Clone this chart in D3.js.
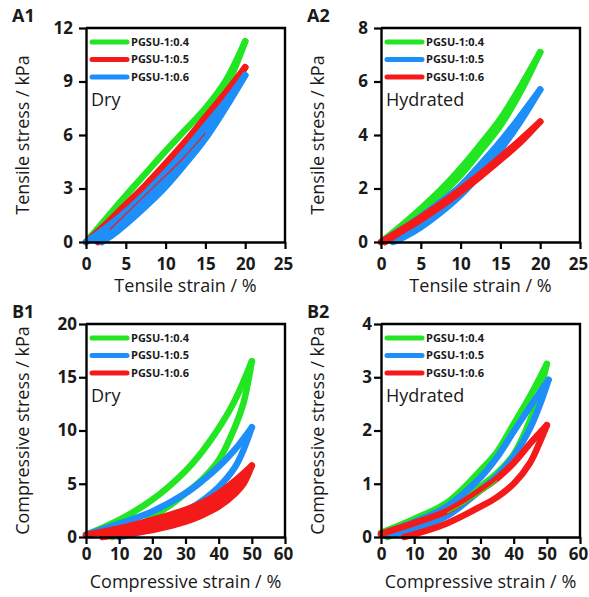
<!DOCTYPE html>
<html>
<head>
<meta charset="utf-8">
<script src="https://cdn.jsdelivr.net/npm/d3@7/dist/d3.min.js"></script>
<style>
  html, body { margin: 0; padding: 0; background: #fff; }
  svg { display: block; }
  text { font-family: "Open Sans", "DejaVu Sans", sans-serif; fill: #1a1a1a; }
</style>
</head>
<body>
<svg id="chart" width="589" height="597"></svg>
<script>
// ---- series names and colours ----
const names = ["PGSU-1:0.4", "PGSU-1:0.5", "PGSU-1:0.6"];
const GREEN = "#22e622", RED = "#f51a1a", BLUE = "#1e8ff8";

// ---- tick values ----
const tensileStrainTicks = [0, 5, 10, 15, 20, 25];
const a1StressTicks = [0, 3, 6, 9, 12];
const a2StressTicks = [0, 2, 4, 6, 8];
const compStrainTicks = [0, 10, 20, 30, 40, 50, 60];
const b1StressTicks = [0, 5, 10, 15, 20];
const b2StressTicks = [0, 1, 2, 3, 4];

// ---- A1: tensile, dry (strain %, stress kPa); loading then unloading ----
const a1_04_load = [[0,0],[2.5,1.3],[5,2.6],[7.5,3.85],[10,5.1],[12.5,6.3],[15,7.5],[17.5,9.0],[20,11.25]];
const a1_04_unload = [[20,11.25],[17.5,8.6],[15,7.0],[12.5,5.6],[10,4.3],[7.5,3.0],[5,1.7],[3.5,0.8],[2,0]];
const a1_05_load = [[0,0],[2.5,1.0],[5,2.1],[7.5,3.2],[10,4.4],[12.5,5.65],[15,7.0],[17.5,8.35],[20,9.8]];
const a1_05_unload = [[20,9.8],[17.5,8.0],[15,6.5],[12.5,5.1],[10,3.8],[7.5,2.6],[5,1.5],[3,0.6],[1.5,0]];
const a1_05_inner = [[3,0.7],[6,2.0],[9,3.3],[12,4.6],[15,6.1]];
const a1_06_load = [[0,0],[2.5,0.8],[5,1.7],[7.5,2.75],[10,3.9],[12.5,5.15],[15,6.5],[17.5,7.85],[20,9.35]];
const a1_06_unload = [[20,9.35],[17.5,7.5],[15,5.8],[12.5,4.4],[10,3.1],[7.5,2.0],[5,1.0],[3.5,0.45],[2,0]];

// ---- A2: tensile, hydrated ----
const a2_04_load = [[0,0],[2.5,0.6],[5,1.25],[7.5,1.95],[10,2.75],[12.5,3.65],[15,4.6],[17.5,5.8],[20,7.1]];
const a2_04_unload = [[20,7.1],[17.5,5.6],[15,4.35],[12.5,3.4],[10,2.5],[7.5,1.75],[5,1.05],[2.5,0.45],[0.5,0]];
const a2_05_load = [[0,0],[2.5,0.45],[5,0.95],[7.5,1.5],[10,2.1],[12.5,2.9],[15,3.75],[17.5,4.7],[20,5.7]];
const a2_05_unload = [[20,5.7],[17.5,4.5],[15,3.45],[12.5,2.55],[10,1.75],[7.5,1.1],[5,0.55],[3,0.2],[1.5,0]];
const a2_06_load = [[0,0],[2.5,0.45],[5,0.92],[7.5,1.42],[10,1.97],[12.5,2.55],[15,3.17],[17.5,3.82],[20,4.5]];
const a2_06_unload = [[20,4.5],[17.5,3.72],[15,3.07],[12.5,2.45],[10,1.87],[7.5,1.33],[5,0.83],[2.5,0.38],[0.5,0]];

// ---- B1: compressive, dry ----
const b1_04_load = [[0,0.2],[10,1.6],[20,3.5],[30,6.2],[35,8.0],[40,10.2],[45,12.9],[50,16.5]];
const b1_04_unload = [[50,16.5],[47.5,12.6],[45,10.4],[40,7.2],[35,5.4],[30,4.1],[25,2.9],[20,1.9],[15,0.8],[8,0]];
const b1_05_load = [[0,0.2],[10,1.25],[20,2.4],[30,4.1],[35,5.25],[40,6.6],[45,8.25],[50,10.3]];
const b1_05_unload = [[50,10.3],[47.5,8.2],[45,6.6],[40,4.7],[35,3.4],[30,2.4],[25,1.5],[20,0.85],[15,0.35],[10,0]];
const b1_06_load = [[0,0.2],[10,0.8],[20,1.6],[30,2.55],[35,3.2],[40,4.1],[45,5.3],[50,6.7]];
const b1_06_unload = [[50,6.7],[47.5,5.0],[45,4.1],[40,2.85],[35,2.05],[30,1.45],[20,0.65],[10,0.2],[5,0]];

// ---- B2: compressive, hydrated ----
const b2_04_load = [[0,0.08],[10,0.34],[20,0.65],[30,1.25],[35,1.6],[40,2.12],[45,2.65],[50,3.25]];
const b2_04_unload = [[50,3.25],[47.5,2.65],[45,2.2],[40,1.55],[35,1.2],[30,0.95],[20,0.5],[10,0.2],[2,0]];
const b2_05_load = [[0,0.05],[10,0.28],[20,0.58],[30,1.12],[35,1.5],[40,1.98],[45,2.45],[50.5,2.95]];
const b2_05_unload = [[50.5,2.95],[48,2.5],[45,2.05],[40,1.52],[35,1.15],[30,0.88],[20,0.4],[10,0.15],[2,0.02]];
const b2_06_load = [[0,0.06],[10,0.26],[20,0.49],[30,0.88],[35,1.1],[40,1.39],[45,1.76],[50,2.1]];
const b2_06_unload = [[50,2.1],[48,1.8],[45,1.4],[40,1.0],[35,0.75],[30,0.57],[20,0.26],[10,0.05],[7,0]];
const b2_04_inner = [[20,0.45],[25,0.62],[30,0.82],[35,1.05]];

// ---- panel layout ----
const panels = [
  { label: "A1", note: "Dry", left: 86, right: 285, top: 28, bottom: 242,
    xDomain: [0, 25], xTicks: tensileStrainTicks, yDomain: [0, 12], yTicks: a1StressTicks,
    xTitle: "Tensile strain / %", yTitle: "Tensile stress / kPa", xLabelPad: 9, yLabelPad: 6, xTitleY: 292,
    series: [
      { name: names[0], color: GREEN, load: a1_04_load, unload: a1_04_unload },
      { name: names[1], color: RED, load: a1_05_load, unload: a1_05_unload, inner: a1_05_inner, solid: true },
      { name: names[2], color: BLUE, load: a1_06_load, unload: a1_06_unload, solid: true }
    ] },
  { label: "A2", note: "Hydrated", left: 381, right: 580, top: 28, bottom: 242,
    xDomain: [0, 25], xTicks: tensileStrainTicks, yDomain: [0, 8], yTicks: a2StressTicks,
    xTitle: "Tensile strain / %", yTitle: "Tensile stress / kPa", xLabelPad: 9, yLabelPad: 6, xTitleY: 292,
    series: [
      { name: names[0], color: GREEN, load: a2_04_load, unload: a2_04_unload },
      { name: names[1], color: BLUE, load: a2_05_load, unload: a2_05_unload, solid: true },
      { name: names[2], color: RED, load: a2_06_load, unload: a2_06_unload, solid: true }
    ] },
  { label: "B1", note: "Dry", left: 86, right: 285, top: 324, bottom: 537,
    xDomain: [0, 60], xTicks: compStrainTicks, yDomain: [0, 20], yTicks: b1StressTicks,
    xTitle: "Compressive strain / %", yTitle: "Compressive stress / kPa", xLabelPad: 4, yLabelPad: 2, xTitleY: 588,
    series: [
      { name: names[0], color: GREEN, load: b1_04_load, unload: b1_04_unload },
      { name: names[1], color: BLUE, load: b1_05_load, unload: b1_05_unload },
      { name: names[2], color: RED, load: b1_06_load, unload: b1_06_unload, solid: true }
    ] },
  { label: "B2", note: "Hydrated", left: 381, right: 580, top: 324, bottom: 537,
    xDomain: [0, 60], xTicks: compStrainTicks, yDomain: [0, 4], yTicks: b2StressTicks,
    xTitle: "Compressive strain / %", yTitle: "Compressive stress / kPa", xLabelPad: 4, yLabelPad: 2, xTitleY: 588,
    series: [
      { name: names[0], color: GREEN, load: b2_04_load, unload: b2_04_unload, inner: b2_04_inner },
      { name: names[1], color: BLUE, load: b2_05_load, unload: b2_05_unload },
      { name: names[2], color: RED, load: b2_06_load, unload: b2_06_unload }
    ] }
];

const svg = d3.select("#chart");

panels.forEach(p => {
  const x = d3.scaleLinear().domain(p.xDomain).range([p.left, p.right]);
  const y = d3.scaleLinear().domain(p.yDomain).range([p.bottom, p.top]);
  const g = svg.append("g");

  const line = d3.line().x(d => x(d[0])).y(d => y(d[1])).curve(d3.curveCatmullRom.alpha(0.5));

  // hysteresis loops, drawn in legend order
  p.series.forEach(s => {
    if (s.solid) {
      // overlapping cycles fill the band between loading and unloading
      g.append("path").attr("d", line(s.load.concat(s.unload)) + "Z")
        .attr("fill", s.color).attr("stroke", "none");
    }
    [s.load, s.unload].forEach(arr => {
      g.append("path").attr("d", line(arr))
        .attr("fill", "none").attr("stroke", s.color)
        .attr("stroke-width", 6.5).attr("stroke-linecap", "round").attr("stroke-linejoin", "round");
    });
  });
  // faint traces of intermediate cycles
  p.series.forEach(s => {
    if (!s.inner) return;
    g.append("path").attr("d", line(s.inner))
      .attr("fill", "none").attr("stroke", s.color).attr("stroke-width", 1.2);
  });

  // frame: top and right edges
  g.append("path")
    .attr("d", `M${p.left},${p.top}H${p.right}V${p.bottom}`)
    .attr("fill", "none").attr("stroke", "#000").attr("stroke-width", 2.4);

  const fmt = d3.format("d");
  const xAxis = g.append("g").attr("transform", `translate(0,${p.bottom})`)
    .call(d3.axisBottom(x).tickValues(p.xTicks).tickFormat(fmt).tickSize(7).tickPadding(p.xLabelPad).tickSizeOuter(0));
  const yAxis = g.append("g").attr("transform", `translate(${p.left},0)`)
    .call(d3.axisLeft(y).tickValues(p.yTicks).tickFormat(fmt).tickSize(7).tickPadding(p.yLabelPad).tickSizeOuter(0));
  [xAxis, yAxis].forEach(a => {
    a.select(".domain").attr("stroke", "#000").attr("stroke-width", 2.4);
    a.selectAll(".tick line").attr("stroke", "#000").attr("stroke-width", 2.2);
    a.selectAll(".tick text").attr("fill", "#111")
      .style("font-family", "'Open Sans', sans-serif").style("font-size", "17px").style("font-weight", "700");
  });
  // keep the last strain label inside the page edge
  xAxis.selectAll(".tick text").filter((d, i, n) => i === n.length - 1).attr("dx", -2);

  // axis titles
  g.append("text").attr("x", (p.left + p.right) / 2).attr("y", p.xTitleY)
    .attr("text-anchor", "middle").style("font-size", "18px").text(p.xTitle);
  g.append("text")
    .attr("transform", `translate(${p.left - 57},${(p.top + p.bottom) / 2}) rotate(-90)`)
    .attr("text-anchor", "middle").style("font-size", "18px").text(p.yTitle);

  // panel label
  g.append("text").attr("x", p.left - 74).attr("y", p.top - 6)
    .style("font-size", "18px").style("font-weight", "700").text(p.label);

  // legend
  p.series.forEach((s, i) => {
    const ly = p.top + 14 + i * 17.5;
    g.append("line").attr("x1", p.left + 6).attr("x2", p.left + 41).attr("y1", ly).attr("y2", ly)
      .attr("stroke", s.color).attr("stroke-width", 5).attr("stroke-linecap", "round");
    g.append("text").attr("x", p.left + 45).attr("y", ly).attr("dy", "0.35em")
      .style("font-size", "11px").style("font-weight", "700").text(s.name);
  });

  // condition note
  g.append("text").attr("x", p.left + 5).attr("y", p.top + 78)
    .style("font-size", "18px").text(p.note);
});
</script>
</body>
</html>
